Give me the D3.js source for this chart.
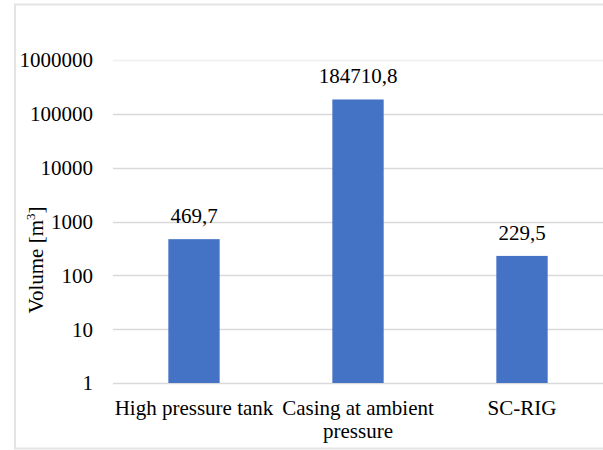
<!DOCTYPE html>
<html>
<head>
<meta charset="utf-8">
<script src="https://cdn.jsdelivr.net/npm/d3@7"></script>
<style>
  html, body { margin: 0; padding: 0; background: #fff; }
  svg { display: block; }
</style>
</head>
<body>
<svg id="chart" width="603" height="450"></svg>
<script>
// Storage volumes per configuration (m³)
const categories = ["High pressure tank", "Casing at ambient pressure", "SC-RIG"];
const volumes = [469.7, 184710.8, 229.5];
const tickValues = [1, 10, 100, 1000, 10000, 100000, 1000000];

const FONT = '"Liberation Serif", "Times New Roman", Tinos, Times';
const FS = 21;

const svg = d3.select("#chart").style("font-family", FONT);
const plot = { left: 112, right: 604, top: 60, bottom: 383 };

// chart frame
svg.append("rect")
  .attr("x", 15).attr("y", 4.5)
  .attr("width", 620).attr("height", 444)
  .attr("fill", "#fff")
  .attr("stroke", "#e4e4e4")
  .attr("stroke-width", 2);

const x = d3.scaleBand()
  .domain(categories)
  .range([plot.left, plot.right])
  .paddingInner(0.687)
  .paddingOuter(0.3435);

const y = d3.scaleLog()
  .domain([1, 1000000])
  .range([plot.bottom, plot.top]);

// horizontal gridlines
svg.append("g")
  .selectAll("line")
  .data(tickValues)
  .join("line")
  .attr("x1", plot.left + 1)
  .attr("x2", plot.right)
  .attr("y1", d => Math.round(y(d)) + 0.5)
  .attr("y2", d => Math.round(y(d)) + 0.5)
  .attr("stroke", d => d === 1000000 ? "#efefef" : "#d9d9d9")
  .attr("stroke-width", 1.3);

// y axis tick labels
const yAxis = d3.axisLeft(y)
  .tickValues(tickValues)
  .tickFormat(d3.format("d"))
  .tickSize(0)
  .tickPadding(0);

const gy = svg.append("g")
  .attr("transform", "translate(93,0)")
  .call(yAxis);
gy.select(".domain").remove();
gy.attr("font-family", null).attr("font-size", null);
gy.selectAll("text")
  .style("font-family", FONT)
  .style("font-size", FS + "px")
  .attr("fill", "#000")
  .attr("dy", "0.33em");

// bars
svg.append("g")
  .selectAll("rect")
  .data(volumes)
  .join("rect")
  .attr("x", (d, i) => x(categories[i]))
  .attr("width", x.bandwidth())
  .attr("y", d => y(d))
  .attr("height", d => y(1) - y(d))
  .attr("fill", "#4472c4");

// value labels with decimal comma
const locale = d3.formatLocale({ decimal: ",", thousands: "", grouping: [3], currency: ["", ""] });
const fmt = locale.format(".1f");
svg.append("g")
  .selectAll("text")
  .data(volumes)
  .join("text")
  .attr("x", (d, i) => x(categories[i]) + x.bandwidth() / 2)
  .attr("y", d => y(d) - 16)
  .attr("text-anchor", "middle")
  .style("font-family", FONT)
  .style("font-size", FS + "px")
  .attr("fill", "#000")
  .text(d => fmt(d));

// category labels, wrapped to the band step
const step = x.step();
const catG = svg.append("g");
categories.forEach(c => {
  const cx = x(c) + x.bandwidth() / 2;
  const t = catG.append("text")
    .attr("x", cx)
    .attr("y", 415)
    .attr("text-anchor", "middle")
    .style("font-family", FONT)
    .style("font-size", FS + "px")
    .attr("fill", "#000");
  const words = c.split(" ");
  let line = [];
  let tspan = t.append("tspan").attr("x", cx).attr("dy", 0);
  words.forEach(w => {
    line.push(w);
    tspan.text(line.join(" "));
    if (tspan.node().getComputedTextLength() > step - 1 && line.length > 1) {
      line.pop();
      tspan.text(line.join(" "));
      line = [w];
      tspan = t.append("tspan")
        .attr("x", cx)
        .attr("dy", 23)
        .text(w);
    }
  });
});

// y axis title
const title = svg.append("text")
  .attr("transform", "translate(43,260) rotate(-90)")
  .attr("text-anchor", "middle")
  .style("font-family", FONT)
  .style("font-size", FS + "px")
  .attr("fill", "#000");
title.append("tspan").text("Volume [m");
title.append("tspan").style("font-size", "13px").attr("dy", -8).text("3");
title.append("tspan").attr("dy", 8).text("]");
</script>
</body>
</html>
